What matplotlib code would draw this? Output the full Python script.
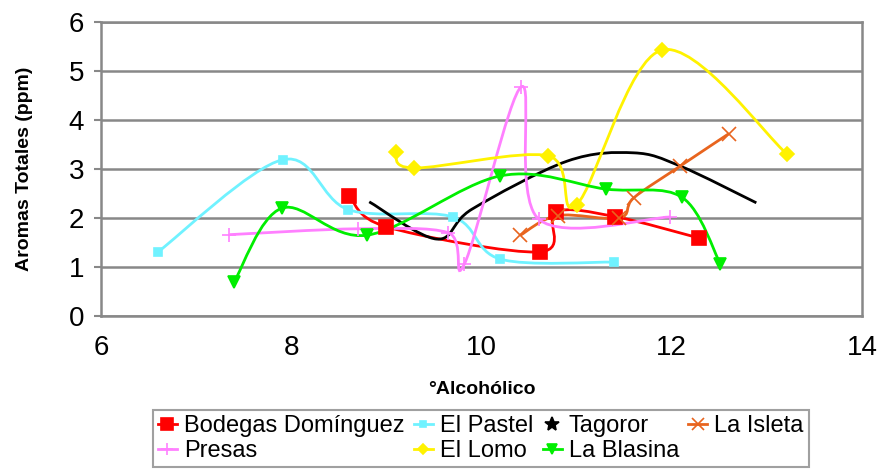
import numpy as np
import matplotlib
matplotlib.use('Agg')
import matplotlib.pyplot as plt
from matplotlib.path import Path
from matplotlib.patches import PathPatch
from matplotlib.lines import Line2D

plt.rcParams['font.family'] = ['Liberation Sans', 'DejaVu Sans']

# datos (grado alcoholico vs aromas totales)
bodegas_x = [8.61, 9.0, 10.62, 10.78, 11.40, 12.29]
bodegas_y = [2.45, 1.82, 1.31, 2.12, 2.03, 1.59]

pastel_x = [6.6, 7.91, 8.6, 9.7, 10.2, 11.39]
pastel_y = [1.31, 3.19, 2.17, 2.02, 1.16, 1.10]

tagoror_x = [8.82, 9.53, 9.9, 10.9, 11.6, 12.09, 12.89]
tagoror_y = [2.33, 1.57, 2.18, 3.16, 3.33, 3.06, 2.31]

isleta_x = [10.41, 10.8, 11.45, 11.6, 12.09, 12.6]
isleta_y = [1.65, 2.05, 2.0, 2.41, 3.06, 3.72]

presas_x = [7.35, 8.7, 9.65, 9.82, 10.42, 10.6, 11.98]
presas_y = [1.66, 1.78, 1.70, 1.06, 4.68, 1.98, 2.02]

lomo_x = [9.1, 9.29, 10.7, 11.0, 11.9, 13.21]
lomo_y = [3.35, 3.02, 3.27, 2.27, 5.43, 3.31]

blasina_x = [7.4, 7.9, 8.8, 10.2, 11.31, 12.11, 12.51]
blasina_y = [0.70, 2.20, 1.65, 2.86, 2.59, 2.42, 1.07]


def smooth_path(x, y):
    # curva suavizada tipo Excel (bezier por tramos)
    pts = np.column_stack([x, y])
    n = len(pts)
    verts = [pts[0]]
    codes = [Path.MOVETO]
    for i in range(n - 1):
        p0 = pts[max(i - 1, 0)]
        p1 = pts[i]
        p2 = pts[i + 1]
        p3 = pts[min(i + 2, n - 1)]
        verts += [p1 + (p2 - p0) / 6, p2 - (p3 - p1) / 6, p2]
        codes += [Path.CURVE4] * 3
    return Path(verts, codes)


series = [
    ('Bodegas Domínguez', bodegas_x, bodegas_y, '#FF0000', 's', 10, True),
    ('El Pastel', pastel_x, pastel_y, '#70F2FF', 's', 5.5, True),
    ('Tagoror', tagoror_x, tagoror_y, '#000000', '*', 10, False),
    ('La Isleta', isleta_x, isleta_y, '#E8641E', 'x', 10, True),
    ('Presas', presas_x, presas_y, '#FF80FF', '+', 10, True),
    ('El Lomo', lomo_x, lomo_y, '#FFF200', 'D', 7, True),
    ('La Blasina', blasina_x, blasina_y, '#00EE00', 'v', 9, True),
]

fig = plt.figure(figsize=(8.84, 4.72), dpi=100)
ax = fig.add_axes([0.1143, 0.3305, 0.8607, 0.6229])

handles = {}
for name, x, y, c, m, ms, show in series:
    ax.add_patch(PathPatch(smooth_path(x, y), fill=False, edgecolor=c, lw=2, zorder=3))
    if show:
        ax.plot(x, y, linestyle='none', marker=m, ms=ms, color=c, mew=1.2, zorder=4)
        handles[name] = Line2D([], [], color=c, lw=2, marker=m, ms=ms * 0.8, mew=1.2)
    else:
        handles[name] = Line2D([], [], color=c, lw=0, marker=m, ms=ms, mew=1.2)

ax.set_xlim(6, 14)
ax.set_ylim(0, 6)
ax.set_xticks([6, 8, 10, 12, 14])
ax.set_yticks(range(7))
ax.grid(axis='y', color='#888888', lw=1.8)
ax.set_axisbelow(True)
for s in ax.spines.values():
    s.set_color('#888888')
    s.set_linewidth(1.8)
ax.tick_params(axis='y', labelsize=20, length=5, width=1.5, color='#888888', pad=7)
ax.tick_params(axis='x', labelsize=20, length=0, pad=14)

ax.set_xlabel('°Alcohólico', fontsize=14, fontweight='bold', labelpad=14)
ax.set_ylabel('Aromas Totales (ppm)', fontsize=14, fontweight='bold', labelpad=26)

order = ['Bodegas Domínguez', 'Presas', 'El Pastel', 'El Lomo',
         'Tagoror', 'La Blasina', 'La Isleta']
leg = fig.legend([handles[k] for k in order], order, ncol=4, loc='center',
                 bbox_to_anchor=(0.544, 0.0705), fontsize=17, frameon=True,
                 fancybox=False, edgecolor='#888888', handlelength=0.8,
                 handletextpad=0.3, columnspacing=0.4, labelspacing=0.15,
                 borderpad=0.2, borderaxespad=0)
leg.get_frame().set_linewidth(1.5)

fig.savefig('out.png', dpi=100)
